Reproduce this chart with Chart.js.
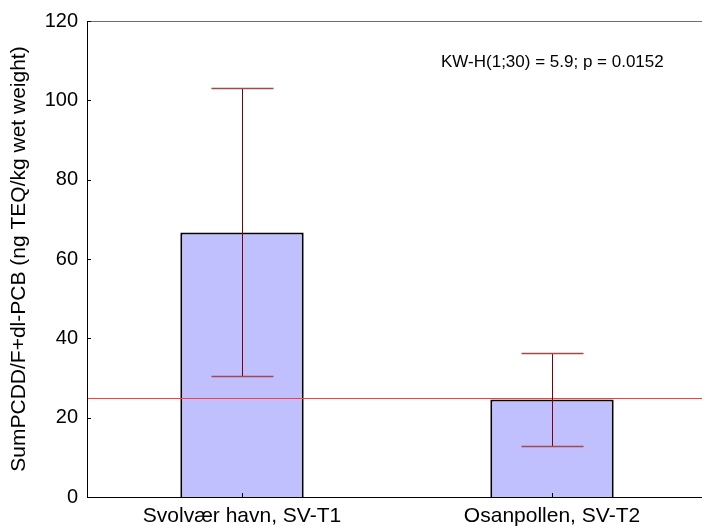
<!DOCTYPE html>
<html>
<head>
<meta charset="utf-8">
<script src="https://cdn.jsdelivr.net/npm/chart.js@4/dist/chart.umd.min.js"></script>
<style>
  html, body { margin: 0; padding: 0; background: #fff; overflow: hidden; }
  #wrap { width: 707px; height: 526px; }
</style>
</head>
<body>
<div id="wrap"><canvas id="teqChart"></canvas></div>
<script>
// station means with error bar ends (ng TEQ/kg wet weight)
const stations = ["Svolvær havn, SV-T1", "Osanpollen, SV-T2"];
const means = [66.7, 24.6];
const errLow = [30.6, 12.9];
const errHigh = [103.2, 36.4];
const refLevel = 25;
const yMin = 0, yMax = 120, yStep = 20;
const statText = "KW-H(1;30) = 5.9; p = 0.0152";

const FONT = "Arial, 'Liberation Sans', sans-serif";

const overlay = {
  id: "overlay",
  afterDatasetsDraw(chart) {
    const { ctx, chartArea: a, scales: { x, y } } = chart;
    ctx.save();

    // reference level
    const ry = Math.round(y.getPixelForValue(refLevel)) + 0.5;
    ctx.strokeStyle = "#ff3b3b";
    ctx.lineWidth = 1;
    ctx.beginPath();
    ctx.moveTo(a.left, ry);
    ctx.lineTo(a.right, ry);
    ctx.stroke();

    // whiskers
    means.forEach((m, i) => {
      const cx = Math.round(x.getPixelForValue(i)) + 0.5;
      const top = Math.round(y.getPixelForValue(errHigh[i])) + 0.5;
      const bot = Math.round(y.getPixelForValue(errLow[i])) + 0.5;
      ctx.strokeStyle = "#800000";
      ctx.lineWidth = 1;
      ctx.beginPath();
      ctx.moveTo(cx, top);
      ctx.lineTo(cx, bot);
      ctx.stroke();
      ctx.strokeStyle = "#a04a4a";
      ctx.lineWidth = 1.5;
      ctx.beginPath();
      ctx.moveTo(cx - 31, top);
      ctx.lineTo(cx + 31, top);
      ctx.moveTo(cx - 31, bot);
      ctx.lineTo(cx + 31, bot);
      ctx.stroke();
    });

    // frame: grey top, black left and bottom
    ctx.lineWidth = 1;
    ctx.strokeStyle = "#6e6e6e";
    ctx.beginPath();
    ctx.moveTo(a.left, a.top + 0.5);
    ctx.lineTo(a.right, a.top + 0.5);
    ctx.stroke();
    ctx.strokeStyle = "#000";
    ctx.beginPath();
    ctx.moveTo(a.left + 0.5, a.top);
    ctx.lineTo(a.left + 0.5, a.bottom);
    ctx.moveTo(a.left, a.bottom + 0.5);
    ctx.lineTo(a.right, a.bottom + 0.5);
    ctx.stroke();

    // inward tick marks
    ctx.beginPath();
    y.ticks.forEach(t => {
      const py = Math.round(y.getPixelForValue(t.value)) + 0.5;
      ctx.moveTo(a.left, py);
      ctx.lineTo(a.left + 4, py);
    });
    stations.forEach((s, i) => {
      const px = Math.round(x.getPixelForValue(i)) + 0.5;
      ctx.moveTo(px, a.bottom);
      ctx.lineTo(px, a.bottom - 4);
    });
    ctx.stroke();

    // test statistic
    ctx.fillStyle = "#000";
    ctx.font = "17px " + FONT;
    ctx.textBaseline = "middle";
    ctx.textAlign = "left";
    ctx.fillText(statText, 441, 62);

    ctx.restore();
  }
};

new Chart(document.getElementById("teqChart"), {
  type: "bar",
  data: {
    labels: stations,
    datasets: [{
      data: means,
      backgroundColor: "#c0c0ff",
      borderColor: "#000",
      borderWidth: 2,
      borderSkipped: "bottom",
      categoryPercentage: 1,
      barPercentage: 0.398
    }]
  },
  options: {
    responsive: true,
    maintainAspectRatio: false,
    animation: false,
    layout: { padding: { top: 21, left: 0, right: 0, bottom: 0 } },
    plugins: { legend: { display: false }, tooltip: { enabled: false } },
    scales: {
      x: {
        grid: { display: false, drawTicks: false },
        border: { display: false },
        ticks: { color: "#000", padding: 7, maxRotation: 0, font: { family: FONT, size: 21 } },
        afterFit(s) { s.height = 29; }
      },
      y: {
        min: yMin,
        max: yMax,
        grid: { display: false, drawTicks: false },
        border: { display: false },
        ticks: { stepSize: yStep, color: "#000", padding: 9, font: { family: FONT, size: 20 } },
        title: {
          display: true,
          text: "SumPCDD/F+dl-PCB (ng TEQ/kg wet weight)",
          color: "#000",
          font: { family: FONT, size: 21 },
          padding: { top: 7, bottom: 0 }
        },
        afterFit(s) { s.width = 87; }
      }
    }
  },
  plugins: [overlay]
});
</script>
</body>
</html>
